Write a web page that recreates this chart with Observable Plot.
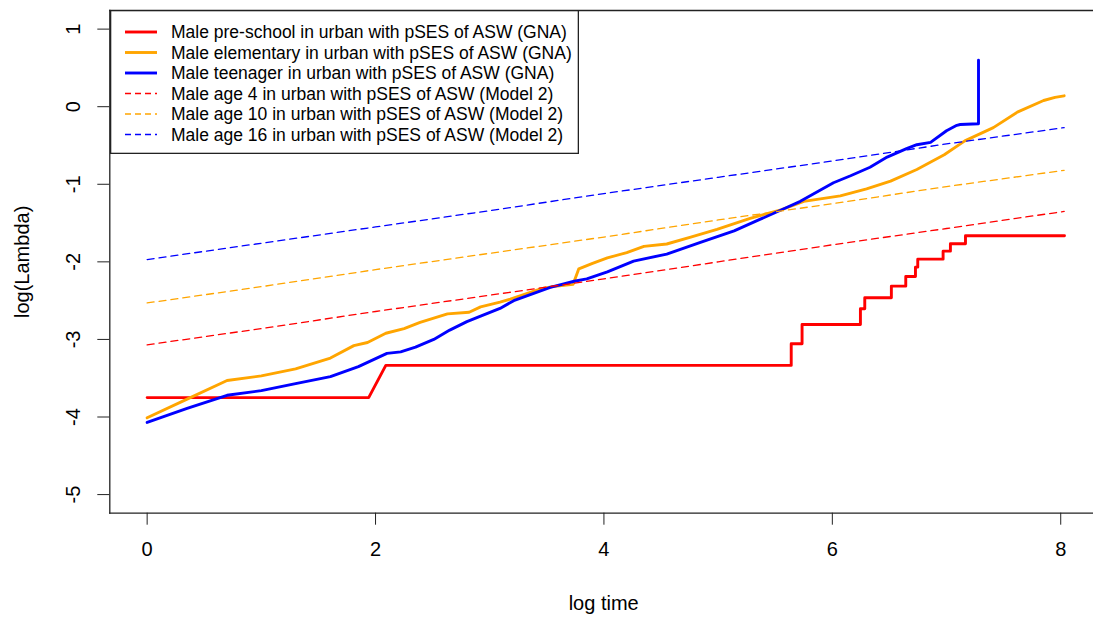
<!DOCTYPE html>
<html>
<head>
<meta charset="utf-8">
<script src="https://cdn.jsdelivr.net/npm/d3@7"></script>
<script src="https://cdn.jsdelivr.net/npm/@observablehq/plot@0.6"></script>
<style>
  html, body { margin: 0; padding: 0; background: white; }
  #wrap { position: relative; width: 1093px; height: 618px; overflow: hidden; font-family: "Liberation Sans", Arial, sans-serif; }
  #legend { position: absolute; left: 110px; top: 10px; }
</style>
</head>
<body>
<div id="wrap"></div>
<script>
// ---- Data ----
const xTicks = [0, 2, 4, 6, 8];
const yTicks = [-5, -4, -3, -2, -1, 0, 1];

// Male pre-school in urban with pSES of ASW (GNA)
const preschoolX = [0, 1.94, 2.09, 5.64, 5.64, 5.735, 5.735, 6.246, 6.246, 6.284, 6.284, 6.517, 6.517, 6.643, 6.643, 6.728, 6.728, 6.748, 6.748, 6.97, 6.97, 7.034, 7.034, 7.166, 7.166, 8.033];
const preschoolY = [-3.75, -3.75, -3.335, -3.335, -3.055, -3.055, -2.807, -2.807, -2.605, -2.605, -2.463, -2.463, -2.313, -2.313, -2.188, -2.188, -2.068, -2.068, -1.965, -1.965, -1.862, -1.862, -1.767, -1.767, -1.664, -1.664];

// Male elementary in urban with pSES of ASW (GNA)
const elementaryX = [0, 0.35, 0.70, 1.0, 1.3, 1.605, 1.81, 1.93, 2.09, 2.25, 2.39, 2.63, 2.82, 2.92, 3.09, 3.18, 3.44, 3.55, 3.73, 3.78, 3.9, 4.03, 4.20, 4.35, 4.55, 4.76, 4.99, 5.28, 5.55, 5.75, 6.07, 6.30, 6.51, 6.74, 6.98, 7.16, 7.41, 7.62, 7.85, 7.95, 8.03];
const elementaryY = [-4.01, -3.77, -3.53, -3.47, -3.38, -3.24, -3.08, -3.04, -2.92, -2.86, -2.78, -2.67, -2.65, -2.58, -2.52, -2.48, -2.35, -2.32, -2.29, -2.09, -2.02, -1.95, -1.88, -1.80, -1.77, -1.68, -1.58, -1.44, -1.33, -1.22, -1.15, -1.06, -0.96, -0.81, -0.62, -0.44, -0.27, -0.07, 0.08, 0.12, 0.14];

// Male teenager in urban with pSES of ASW (GNA)
const teenagerX = [0, 0.35, 0.70, 1.0, 1.3, 1.605, 1.85, 2.1, 2.22, 2.35, 2.51, 2.65, 2.80, 2.92, 3.09, 3.21, 3.53, 3.74, 3.85, 4.03, 4.26, 4.55, 4.845, 5.14, 5.37, 5.60, 5.72, 6.01, 6.16, 6.33, 6.48, 6.65, 6.74, 6.86, 7.0, 7.09, 7.12, 7.28, 7.28];
const teenagerY = [-4.07, -3.89, -3.72, -3.66, -3.57, -3.48, -3.35, -3.18, -3.16, -3.10, -3.00, -2.88, -2.77, -2.70, -2.60, -2.50, -2.33, -2.25, -2.22, -2.13, -1.99, -1.90, -1.75, -1.60, -1.45, -1.30, -1.22, -0.98, -0.89, -0.78, -0.65, -0.54, -0.49, -0.46, -0.31, -0.24, -0.23, -0.22, 0.60];

// Model 2 curves
const modelX = [0, 1, 2, 3, 4, 5, 6, 7, 8.03];
const age4Y  = [-3.07, -2.86, -2.64, -2.43, -2.22, -2.00, -1.78, -1.57, -1.35];
const age10Y = [-2.53, -2.32, -2.10, -1.89, -1.68, -1.46, -1.25, -1.03, -0.82];
const age16Y = [-1.97, -1.76, -1.55, -1.34, -1.12, -0.91, -0.70, -0.48, -0.27];

const legendLabels = [
  "Male pre-school in urban with pSES of ASW (GNA)",
  "Male elementary in urban with pSES of ASW (GNA)",
  "Male teenager in urban with pSES of ASW (GNA)",
  "Male age 4 in urban with pSES of ASW (Model 2)",
  "Male age 10 in urban with pSES of ASW (Model 2)",
  "Male age 16 in urban with pSES of ASW (Model 2)"
];
const legendColors = ["#FF0000", "#FFA500", "#0000FF", "#FF0000", "#FFA500", "#0000FF"];
const legendDashed = [false, false, false, true, true, true];

// ---- Build ----
const pts = (xs, ys) => xs.map((x, i) => ({x, y: ys[i]}));
const solidW = 2.9, dashW = 1.3, dash = "7,5";

const chart = Plot.plot({
  width: 1093,
  height: 618,
  marginLeft: 109.3,
  marginRight: 0,
  marginTop: 10,
  marginBottom: 105.3,
  x: {domain: [-0.327, 8.287]},
  y: {domain: [-5.24, 1.24]},
  style: {fontFamily: "'Liberation Sans', Arial, sans-serif", background: "white", color: "#000", overflow: "hidden"},
  marks: [
    Plot.frame({anchor: "top", stroke: "#222", strokeWidth: 1.3}),
    Plot.frame({anchor: "left", stroke: "#222", strokeWidth: 1.3}),
    Plot.frame({anchor: "bottom", stroke: "#222", strokeWidth: 1.3}),
    Plot.axisX({ticks: xTicks, tickSize: 12, tickPadding: 17, fontSize: 20, label: null, tickFormat: d => String(d), stroke: "#222"}),
    Plot.axisY({ticks: yTicks, tickSize: 12, tickFormat: () => "", label: null, stroke: "#222"}),
    Plot.text(yTicks, {y: d => d, text: d => String(d), frameAnchor: "left", dx: -36, rotate: -90, textAnchor: "middle", lineAnchor: "middle", fontSize: 20, fill: "#000"}),
    Plot.text(["log time"], {frameAnchor: "bottom", dy: 90, dx: 2, textAnchor: "middle", lineAnchor: "middle", fontSize: 20, fill: "#000"}),
    Plot.text(["log(Lambda)"], {frameAnchor: "left", dx: -87, rotate: -90, textAnchor: "middle", lineAnchor: "middle", fontSize: 20, fill: "#000"}),
    Plot.line(pts(preschoolX, preschoolY), {x: "x", y: "y", stroke: legendColors[0], strokeWidth: solidW}),
    Plot.line(pts(elementaryX, elementaryY), {x: "x", y: "y", stroke: legendColors[1], strokeWidth: solidW}),
    Plot.line(pts(teenagerX, teenagerY), {x: "x", y: "y", stroke: legendColors[2], strokeWidth: solidW}),
    Plot.line(pts(modelX, age4Y), {x: "x", y: "y", stroke: legendColors[3], strokeWidth: dashW, strokeDasharray: dash}),
    Plot.line(pts(modelX, age10Y), {x: "x", y: "y", stroke: legendColors[4], strokeWidth: dashW, strokeDasharray: dash}),
    Plot.line(pts(modelX, age16Y), {x: "x", y: "y", stroke: legendColors[5], strokeWidth: dashW, strokeDasharray: dash})
  ]
});
const wrap = document.getElementById("wrap");
wrap.appendChild(chart);

// Legend overlay (R-style boxed legend)
const lw = 469, lh = 144;
const svg = d3.select(wrap).append("svg")
  .attr("id", "legend").attr("width", lw).attr("height", lh);
svg.append("rect").attr("x", 0.65).attr("y", 0.65).attr("width", lw - 1.3).attr("height", lh - 1.3)
  .attr("fill", "white").attr("stroke", "#222").attr("stroke-width", 1.3);
const rows = svg.selectAll("g.row").data(legendLabels).join("g")
  .attr("transform", (d, i) => `translate(0,${22 + i * 20.5})`);
rows.append("line").attr("x1", 15).attr("x2", 47).attr("y1", 0).attr("y2", 0)
  .attr("stroke", (d, i) => legendColors[i])
  .attr("stroke-width", (d, i) => legendDashed[i] ? dashW : solidW)
  .attr("stroke-dasharray", (d, i) => legendDashed[i] ? "6,4" : null);
rows.append("text").attr("x", 61).attr("y", 0).attr("dy", "0.35em")
  .attr("font-size", 17.5).attr("font-family", "'Liberation Sans', Arial, sans-serif")
  .attr("fill", "#000").text(d => d);
</script>
</body>
</html>
